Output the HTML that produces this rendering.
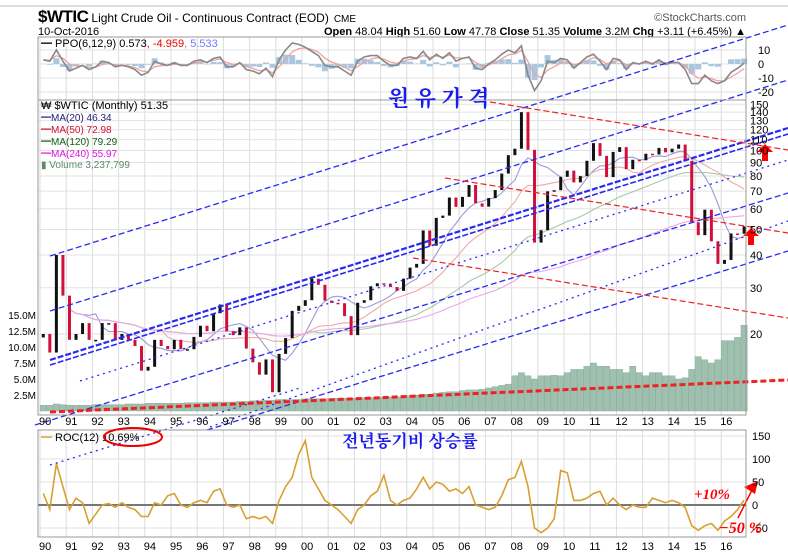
<!DOCTYPE html>
<html><head><meta charset="utf-8">
<style>
html,body{margin:0;padding:0;background:#fff;}
svg{display:block;font-family:"Liberation Sans","Noto Sans CJK KR",sans-serif;}
</style></head>
<body>
<svg id="chart" width="788" height="558" viewBox="0 0 788 558" xmlns="http://www.w3.org/2000/svg">
  <line x1="0" y1="6" x2="788" y2="6" stroke="#bbb" stroke-width="1"/>
  <text x="38" y="22"><tspan font-size="17" font-weight="bold" letter-spacing="-0.5">$WTIC</tspan><tspan font-size="12" dx="3">Light Crude Oil - Continuous Contract (EOD)</tspan><tspan font-size="10" dx="5">CME</tspan></text>
  <text x="38" y="35" font-size="11">10-Oct-2016</text>
  <text x="746" y="21" font-size="11" fill="#555" text-anchor="end">©StockCharts.com</text>
  <text x="746" y="35" font-size="11" text-anchor="end"><tspan font-weight="bold">Open</tspan> 48.04 <tspan font-weight="bold">High</tspan> 51.60 <tspan font-weight="bold">Low</tspan> 47.78 <tspan font-weight="bold">Close</tspan> 51.35 <tspan font-weight="bold">Volume</tspan> 3.2M <tspan font-weight="bold">Chg</tspan> +3.11 (+6.45%) ▲</text>
  <g id="grid"></g>
  <g id="ppo"></g>
  <g id="vol"></g>
  <g id="ma"></g>
  <g id="price"></g>
  <g id="roc"></g>
  <g id="annot"></g>
  <g id="frames"></g>
  <g id="axes"></g>
  <g id="legend">
    <text x="41" y="47" font-size="11"><tspan font-weight="bold">━</tspan> PPO(6,12,9) 0.573<tspan fill="#e00">, -4.959</tspan><tspan fill="#77f">, 5.533</tspan></text>
    <text x="41" y="109" font-size="11">₩ $WTIC (Monthly) 51.35</text>
    <text x="41" y="121" font-size="10" fill="#22227a">━MA(20) 46.34</text>
    <text x="41" y="133" font-size="10" fill="#d01030">━MA(50) 72.98</text>
    <text x="41" y="145" font-size="10" fill="#106010">━MA(120) 79.29</text>
    <text x="41" y="157" font-size="10" fill="#e010e0">━MA(240) 55.97</text>
    <text x="41" y="168" font-size="10" fill="#5a8a6a">▮ Volume 3,237,799</text>
    <text x="41" y="441" font-size="11"><tspan fill="#d8a030" font-weight="bold">━</tspan> ROC(12) 10.69%</text>
    <ellipse cx="133" cy="437" rx="29" ry="9" fill="none" stroke="#e00" stroke-width="2"/>
  </g>
  <text x="388" y="106" font-size="22" font-weight="bold" fill="#1a1aee" font-family="'Noto Serif CJK SC','Noto Sans CJK KR',serif">원 유 가 격</text>
  <text x="342" y="447" font-size="17" font-weight="bold" fill="#1a1aee" font-family="'Noto Serif CJK SC','Noto Sans CJK KR',serif">전년동기비 상승률</text>
  <text x="694" y="499" font-size="15" font-weight="bold" font-style="italic" fill="#f00" font-family="'Liberation Serif',serif">+10%</text>
  <text x="719" y="533" font-size="16" font-weight="bold" font-style="italic" fill="#f00" font-family="'Liberation Serif',serif">−50 %</text>
</svg>
<script>
const NS="http://www.w3.org/2000/svg";
// ---- data (quarterly, 1990Q1..2016Q4) ----
const years=["90","91","92","93","94","95","96","97","98","99","00","01","02","03","04","05","06","07","08","09","10","11","12","13","14","15","16"];
const closes=[20,17,40,28, 19,20,22,19, 19,22,22,19, 20,19,18,14.5, 15,19,18,17.5, 19,17.5,17.5,19.5, 21.5,20.5,24,25.9, 20.5,19.8,21.2,17.6, 15.6,14,16,12, 16.8,19.3,24.5,25.6, 26.9,32.5,30.8,26.8, 26.3,26.2,23.4,19.8, 26.3,26.9,30.4,31.2, 31,30.2,29.2,32.5, 35.8,37,49.6,43.4, 55.4,56.5,66.2,61, 66.6,73.9,62.9,61.1, 65.9,70.7,81.7,96, 101.6,140,100.6,44.6, 49.7,69.9,70.6,79.4, 83.8,75.6,79.9,91.4, 106.7,95.4,79.2,98.8, 103,84.9,92.2,91.8, 97.2,96.6,102.3,98.4, 101.6,105.4,91.2,53.3, 47.6,59.5,45.1,37, 38.3,48.3,48.2,51.35];
const volumes=[.9,.9,1.1,1.0, .9,.9,.9,.9, 1.0,1.0,1.0,1.0, 1.0,1.1,1.1,1.1, 1.2,1.2,1.2,1.2, 1.2,1.2,1.3,1.3, 1.3,1.3,1.4,1.4, 1.4,1.4,1.5,1.5, 1.6,1.6,1.7,1.7, 1.8,1.8,1.8,1.8, 1.9,1.9,1.9,1.9, 1.9,2.0,2.0,2.0, 2.0,2.1,2.1,2.1, 2.2,2.2,2.2,2.2, 2.4,2.5,2.6,2.6, 2.8,2.9,3.0,3.0, 3.2,3.3,3.3,3.4, 3.6,3.8,4.0,4.2, 5.5,6.0,5.5,5.0, 5.5,5.5,5.6,5.5, 6.0,6.5,6.5,7.0, 7.5,7.0,7.0,6.5, 6.5,6.0,7.0,6.0, 5.5,6.0,6.0,5.5, 5.5,5.0,5.2,6.5, 8.5,8.0,7.5,8.0, 11.0,11.0,11.5,13.4];
const ppoValues=[3,2,10,2, -5,-3,-1,-4, -2,2,1,-2, -1,-2,-4,-8, -6,2,0,-1, 1,-1,-1,2, 3,1,4,5, -2,-2,1,-4, -5,-7,-3,-9, 3,10,15,14, 12,9,6,-1, -2,-2,-5,-8, 2,5,6,6, 2,-1,-1,4, 5,4,9,3, 7,4,8,2, 4,5,-3,-4, 0,3,7,10, 8,13,-8,-19, -12,2,1,4, 3,-3,1,5, 7,2,-4,4, 3,-4,1,0, 2,0,3,0, 1,1,-4,-14, -14,-8,-12,-14, -12,-6,-3,0.6];
const rocValues=[25,-10,90,40, -10,15,5,-40, -20,0,3,-5, 5,-5,-10,-25, -25,5,0,20, 25,0,-5,5, 10,5,30,35, 0,-5,0,-30, -25,-30,-25,-40, 10,40,60,110, 140,60,35,10, 0,-10,-25,-40, -10,0,20,30, 65,10,0,10, 15,35,60,35, 50,45,30,35, 25,40,0,-5, -10,-5,20,55, 60,95,40,-50, -60,-50,-30,75, 70,10,10,15, 25,30,0,15, 0,-10,0,-5, -5,15,10,5, 10,5,-5,-45, -55,-45,-40,-55, -35,-25,-10,10.7];
const priceTicks=[150,140,130,120,110,100,90,80,70,60,50,40,30,20];
const volTicks=["2.5M","5.0M","7.5M","10.0M","12.5M","15.0M"];
const volTickValues=[2.5,5,7.5,10,12.5,15];
const ppoTicks=[10,0,-10,-20];
const rocTicks=[150,100,50,0,-50];

// ---- scales ----
const L=38,R=746;
const xQ=i=>40+26.2*(i+0.5)/4;
const xYear=i=>40+26.2*i;
const yPrice=p=>334-114*Math.log(p/20);
const yVol=v=>411-6.4*v;
const yPPO=v=>64-1.4*v;
const yROC=v=>505-0.46*v;

function mk(tag,attrs,parent){const e=document.createElementNS(NS,tag);for(const k in attrs)e.setAttribute(k,attrs[k]);document.getElementById(parent).appendChild(e);return e;}
function poly(vals,fx,fy,start){let d="";vals.forEach((v,i)=>{if(v==null)return;d+=(d?"L":"M")+fx(i+start).toFixed(1)+","+fy(v).toFixed(1);});return d;}

// grid
years.forEach((y,i)=>{
  [[37,100],[100,415],[430,537]].forEach(([a,b])=>{
    const g=mk("line",{x1:xYear(i),x2:xYear(i),y1:a,y2:b,stroke:"#dcdcdc","stroke-width":1},"grid");
    
    
  });
  const t1=mk("text",{x:xYear(i)-1,y:425,"font-size":11},"axes");t1.textContent=y;
  
  
  const t2=mk("text",{x:xYear(i)-1,y:550,"font-size":11},"axes");t2.textContent=y;
  
  
});
priceTicks.forEach(p=>{
  const g=mk("line",{x1:L,x2:R,y1:yPrice(p),y2:yPrice(p),stroke:"#e2e2e2"},"grid");
  
  
  const t=mk("text",{x:750,y:yPrice(p)+4,"font-size":11},"axes");t.textContent=p;
  
  
});
volTicks.forEach((s,i)=>{
  const t=mk("text",{x:36,y:yVol(volTickValues[i])+4,"font-size":10,"text-anchor":"end"},"axes");t.textContent=s;
  
  
});
ppoTicks.forEach(v=>{
  const g=mk("line",{x1:L,x2:R,y1:yPPO(v),y2:yPPO(v),stroke:"#e2e2e2"},"grid");
  
  
  const t=mk("text",{x:758,y:yPPO(v)+4,"font-size":11},"axes");t.textContent=v;
  
  
});
rocTicks.forEach(v=>{
  const g=mk("line",{x1:L,x2:R,y1:yROC(v),y2:yROC(v),stroke:"#e2e2e2"},"grid");
  
  
  const t=mk("text",{x:752,y:yROC(v)+4,"font-size":11},"axes");t.textContent=v;
  
  
});

// PPO
const signal=[];let s=ppoValues[0];
ppoValues.forEach(v=>{s=s+(v-s)*0.45;signal.push(s);});
ppoValues.forEach((v,i)=>{
  const h=v-signal[i];
  const b=mk("rect",{x:xQ(i)-3,width:6,y:Math.min(yPPO(0),yPPO(h)),height:Math.abs(yPPO(h)-yPPO(0)),fill:"#a9c8e0"},"ppo");
  
  
});
const sl=mk("path",{d:poly(signal,xQ,yPPO,0),fill:"none",stroke:"#f0a0a0","stroke-width":1.3},"ppo");


const pl=mk("path",{d:poly(ppoValues,xQ,yPPO,0),fill:"none",stroke:"#888","stroke-width":1.6},"ppo");



// volume
volumes.forEach((v,i)=>{
  const b=mk("rect",{x:xQ(i)-3.2,width:6.3,y:yVol(v),height:yVol(0)-yVol(v),fill:"#9fbfaf",stroke:"#86a896","stroke-width":0.4},"vol");
  
  
});

// moving averages (derived from closes; windows in quarters)
function sma(n){return closes.map((c,i)=>{const st=Math.max(0,i-n+1);const a=closes.slice(st,i+1);return a.reduce((x,y)=>x+y,0)/a.length;});}
[[7,"#9a9ad8","ma20-line"],[17,"#f0a8a8","ma50-line"],[40,"#a8c8a8","ma120-line"],[80,"#eaa8ea","ma240-line"]].forEach(([n,c,nm])=>{
  const m=sma(n);
  const p=mk("path",{d:poly(m.slice(Math.min(n-1,4)),xQ,yPrice,Math.min(n-1,4)),fill:"none",stroke:c,"stroke-width":1.1},"ma");
  
  
});

// price candles
closes.forEach((c,i)=>{
  const o=i?closes[i-1]:c*0.97;
  const up=c>=o;
  const y1=yPrice(Math.max(o,c)),y2=yPrice(Math.min(o,c));
  const b=mk("rect",{x:xQ(i)-1.5,width:3,y:y1,height:Math.max(1.5,y2-y1),fill:up?"#111":"#d0103a"},"price");
  
  
});

// ROC
const z=mk("line",{x1:L,x2:R,y1:yROC(0),y2:yROC(0),stroke:"#777","stroke-width":2},"roc");


const rl=mk("path",{d:poly(rocValues,xQ,yROC,0),fill:"none",stroke:"#d8a030","stroke-width":1.6},"roc");



// trendline annotations (hand-drawn overlays)
const blue=[[50,256,788,25,"6,3",1.3],[50,311,788,80,"6,3",1.3],[50,360,788,128,"6,2",2.2],[50,365,788,134,"6,2",1.6],[80,381,788,160,"2,4",1.3],[35,425,788,193,"6,3",1.3],[210,427,788,221,"2,4",1.3],[207,430,788,251,"6,3",1.3],[50,465,300,388,"2,4",1.3]];
blue.forEach(a=>{
  const l=mk("line",{x1:a[0],y1:a[1],x2:a[2],y2:a[3],stroke:"#2a2aee","stroke-width":a[5],"stroke-dasharray":a[4]},"annot");
  
  
});
const red=[[490,102,788,150,"6,3",1.2],[445,178,788,233,"6,3",1.2],[413,258,788,318,"6,3",1.2],[50,412,788,380,"6,3",3]];
red.forEach(a=>{
  const l=mk("line",{x1:a[0],y1:a[1],x2:a[2],y2:a[3],stroke:"#ee2222","stroke-width":a[5],"stroke-dasharray":a[4]},"annot");
  
  
});
[[765,144],[751,228]].forEach(([x,y])=>{
  const a=mk("path",{d:`M${x},${y} l-8,8 h5 v9 h6 v-9 h5 z`,fill:"#f00"},"annot");
  
  
});
const ra=mk("line",{x1:738,y1:518,x2:752,y2:490,stroke:"#f00","stroke-width":1.5},"annot");


const rh=mk("path",{d:"M758,481 l-14,6 l11,7 z",fill:"#f00"},"annot");



// frames
[[L,37,R-L,63],[L,100,R-L,315],[L,430,R-L,107]].forEach(f=>{
  const r=mk("rect",{x:f[0],y:f[1],width:f[2],height:f[3],fill:"none",stroke:"#999"},"frames");
  
  
});
</script>
</body></html>
